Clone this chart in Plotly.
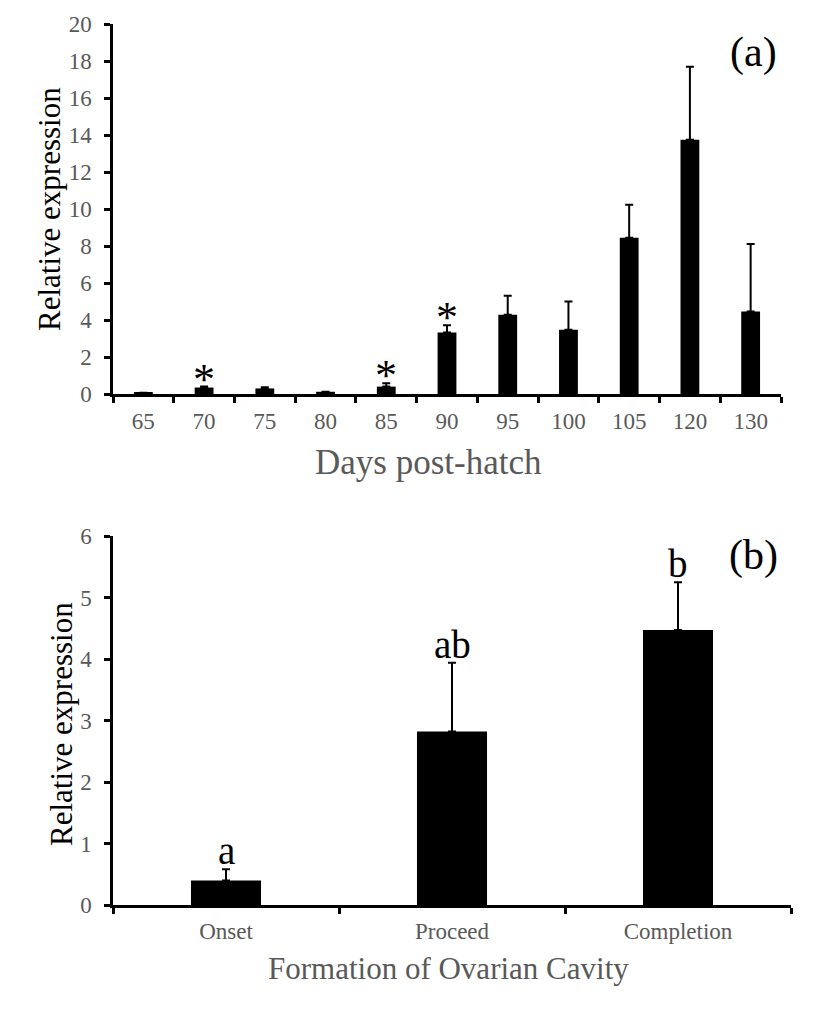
import plotly.graph_objects as go

# ---- data (panel a) ----
days = ["65", "70", "75", "80", "85", "90", "95", "100", "105", "120", "130"]
expr_a = [0.07, 0.35, 0.30, 0.12, 0.40, 3.32, 4.28, 3.47, 8.44, 13.75, 4.46]
err_a = [0.0, 0.05, 0.06, 0.0, 0.18, 0.39, 1.03, 1.53, 1.79, 3.94, 3.65]
star_days = ["70", "85", "90"]

# ---- data (panel b) ----
stages = ["Onset", "Proceed", "Completion"]
expr_b = [0.40, 2.82, 4.47]
err_b = [0.18, 1.12, 0.78]
letters_b = ["a", "ab", "b"]

W, H = 827, 1009
OFF = 8  # page body margin
SERIF = "Liberation Serif, Times New Roman, serif"
GRAY = "#595959"


def px(x):
    return (x - OFF) / W


def py(y):
    return 1 - (y - OFF) / H


fig = go.Figure()

fig.add_trace(go.Bar(
    x=days, y=expr_a, marker=dict(color="black", line=dict(width=0)),
    width=0.31, xaxis="x", yaxis="y",
    error_y=dict(type="data", array=err_a, arrayminus=[0] * len(err_a), symmetric=False,
                 color="black", thickness=2, width=4),
    showlegend=False))

fig.add_trace(go.Bar(
    x=stages, y=expr_b, marker=dict(color="black", line=dict(width=0)),
    width=0.31, xaxis="x2", yaxis="y2",
    error_y=dict(type="data", array=err_b, arrayminus=[0] * len(err_b), symmetric=False,
                 color="black", thickness=2, width=4),
    showlegend=False))

ann = []
for d in star_days:
    i = days.index(d)
    ann.append(dict(x=i, y=expr_a[i] + err_a[i], xref="x", yref="y", text="*",
                    showarrow=False, xanchor="center", yanchor="bottom", yshift=-19,
                    font=dict(family=SERIF, size=44, color="black")))
for i, (v, e, t) in enumerate(zip(expr_b, err_b, letters_b)):
    ann.append(dict(x=i, y=v + e, xref="x2", yref="y2", text=t,
                    showarrow=False, xanchor="center", yanchor="bottom", yshift=-5,
                    font=dict(family=SERIF, size=39, color="black")))
ann.append(dict(x=px(753), y=py(52), xref="paper", yref="paper", text="(a)",
                xanchor="center", yanchor="middle",
                showarrow=False, font=dict(family=SERIF, size=42, color="black")))
ann.append(dict(x=px(753), y=py(555), xref="paper", yref="paper", text="(b)",
                xanchor="center", yanchor="middle",
                showarrow=False, font=dict(family=SERIF, size=42, color="black")))
# axis titles
ann.append(dict(x=px(50), y=py(209), xref="paper", yref="paper", text="Relative expression",
                textangle=-90, xanchor="center", yanchor="middle", showarrow=False,
                font=dict(family=SERIF, size=31, color="black")))
ann.append(dict(x=px(61), y=py(724), xref="paper", yref="paper", text="Relative expression",
                textangle=-90, xanchor="center", yanchor="middle", showarrow=False,
                font=dict(family=SERIF, size=31, color="black")))
ann.append(dict(x=px(428), y=py(462), xref="paper", yref="paper", text="Days post-hatch",
                xanchor="center", yanchor="middle", showarrow=False,
                font=dict(family=SERIF, size=35, color=GRAY)))
ann.append(dict(x=px(448), y=py(968), xref="paper", yref="paper",
                text="Formation of Ovarian Cavity",
                xanchor="center", yanchor="middle", showarrow=False,
                font=dict(family=SERIF, size=31, color=GRAY)))

axis_common = dict(showline=True, linecolor="black", linewidth=2.5, ticks="outside",
                   tickcolor="black", tickwidth=2.5, ticklen=6, showgrid=False,
                   zeroline=False, automargin=False, fixedrange=True,
                   tickfont=dict(family=SERIF, size=23, color=GRAY))

fig.update_layout(
    width=W, height=H, margin=dict(l=0, r=0, t=0, b=0),
    plot_bgcolor="white", paper_bgcolor="white",
    annotations=ann,
    xaxis=dict(domain=[px(113), px(781)], anchor="y", type="category",
               range=[-0.5, len(days) - 0.5],
               tickson="boundaries", tickangle=0, ticklabelstandoff=5,
               **axis_common),
    yaxis=dict(domain=[py(394), py(24)], anchor="x", range=[0, 20], dtick=2,
               ticklabelstandoff=8, **axis_common),
    xaxis2=dict(domain=[px(113), px(791)], anchor="y2", type="category",
                range=[-0.5, len(stages) - 0.5],
                tickson="boundaries", tickangle=0, ticklabelstandoff=4,
                **axis_common),
    yaxis2=dict(domain=[py(905), py(536)], anchor="x2", range=[0, 6], dtick=1,
                ticklabelstandoff=8, **axis_common),
)

fig.write_html("out.html")
